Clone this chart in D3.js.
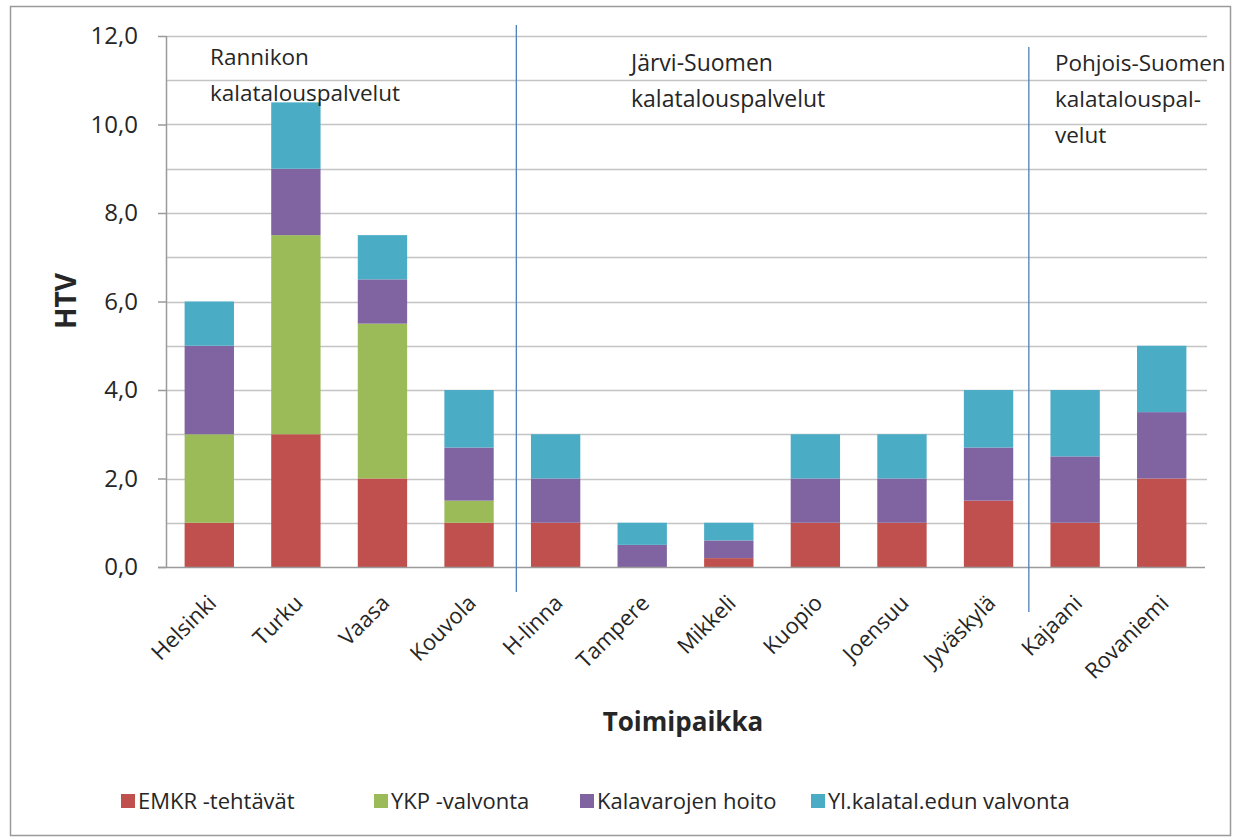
<!DOCTYPE html>
<html>
<head>
    <meta charset="utf-8">
    <title>HTV toimipaikoittain</title>
    <script src="https://cdn.jsdelivr.net/npm/d3@7"></script>
    <style>
        body { margin: 0; background: #fff; }
        .txt { font-family: "Open Sans", sans-serif; fill: #262626; }
        .grid line { stroke: #c4c4c4; stroke-width: 1.3px; }
    </style>
</head>
<body>
<div id="chart"></div>
<script>
    var width = 1233, height = 839;

    // data
    var toimipaikat = ['Helsinki','Turku','Vaasa','Kouvola','H-linna','Tampere','Mikkeli','Kuopio','Joensuu','Jyväskylä','Kajaani','Rovaniemi'];
    var sarjat = ['EMKR -tehtävät','YKP -valvonta','Kalavarojen hoito','Yl.kalatal.edun valvonta'];
    var emkr   = [1,   3,   2,   1,   1, 0,   0.2, 1, 1, 1.5, 1,   2  ];
    var ykp    = [2,   4.5, 3.5, 0.5, 0, 0,   0,   0, 0, 0,   0,   0  ];
    var hoito  = [2,   1.5, 1,   1.2, 1, 0.5, 0.4, 1, 1, 1.2, 1.5, 1.5];
    var yleinen= [1,   1.5, 1,   1.3, 1, 0.5, 0.4, 1, 1, 1.3, 1.5, 1.5];
    var yTicks = [0, 2, 4, 6, 8, 10, 12];
    var alueet = [
        {rivit: ['Rannikon','kalatalouspalvelut']},
        {rivit: ['Järvi-Suomen','kalatalouspalvelut']},
        {rivit: ['Pohjois-Suomen','kalatalouspal-','velut']}
    ];
    var rajat = [4, 10]; // category index where a new region starts
    var colors = ['#c0504d','#9bbb59','#8064a2','#4bacc6'];

    var margin = {left: 166, right: 1205, top: 36, bottom: 567};

    var svg = d3.select("#chart").append("svg")
        .attr("width", width)
        .attr("height", height);

    // outer frame
    svg.append("rect")
        .attr("x", 10.5).attr("y", 6.5)
        .attr("width", 1220).attr("height", 829)
        .attr("fill", "none")
        .attr("stroke", "#9a9a9a")
        .attr("stroke-width", 1.5);

    var x = d3.scaleBand()
        .domain(toimipaikat)
        .range([margin.left, margin.right])
        .paddingInner(0.43)
        .paddingOuter(0.215);

    var y = d3.scaleLinear()
        .domain([0, 12])
        .range([margin.bottom, margin.top]);

    // gridlines every 1.0
    svg.append("g")
        .attr("class", "grid")
        .selectAll("line")
        .data(d3.range(1, 13))
        .enter()
        .append("line")
        .attr("x1", margin.left).attr("x2", margin.right + 2)
        .attr("y1", function(d){return Math.round(y(d)) + 0.5})
        .attr("y2", function(d){return Math.round(y(d)) + 0.5});

    // stacked bars
    var rows = toimipaikat.map(function(t, i){
        return {name: t, s0: emkr[i], s1: ykp[i], s2: hoito[i], s3: yleinen[i]};
    });
    var stack = d3.stack().keys(['s0','s1','s2','s3'])(rows);

    svg.append("g").selectAll("g")
        .data(stack)
        .enter()
        .append("g")
        .attr("fill", function(d, i){return colors[i]})
        .selectAll("rect")
        .data(function(d){return d})
        .enter()
        .append("rect")
        .attr("x", function(d){return x(d.data.name)})
        .attr("width", x.bandwidth())
        .attr("y", function(d){return y(d[1])})
        .attr("height", function(d){return y(d[0]) - y(d[1])});

    // y axis
    var yAxis = svg.append("g")
        .attr("transform", "translate(" + margin.left + ",0)")
        .call(d3.axisLeft(y).tickValues(yTicks).tickSize(8).tickPadding(20)
            .tickFormat(function(d){return d3.format(".1f")(d).replace(".", ",")}));
    yAxis.select(".domain").attr("stroke", "#9a9a9a").attr("stroke-width", 1.5).attr("d", "M0.5," + margin.top + "V" + margin.bottom);
    yAxis.selectAll(".tick line").attr("stroke", "#9a9a9a").attr("stroke-width", 1.5);
    yAxis.selectAll(".tick text")
        .attr("class", "txt")
        .style("font-size", "24px")
        .attr("fill", "#262626");

    // x axis
    var xAxis = svg.append("g")
        .attr("transform", "translate(0," + margin.bottom + ")")
        .call(d3.axisBottom(x).tickSize(0).tickPadding(0));
    xAxis.select(".domain").attr("stroke", "#9a9a9a").attr("stroke-width", 1.5)
        .attr("d", "M" + (margin.left - 8) + ",0.5H" + margin.right);
    xAxis.selectAll(".tick text")
        .attr("class", "txt")
        .style("font-size", "22px")
        .attr("fill", "#262626")
        .attr("text-anchor", "end")
        .attr("dy", "0.35em")
        .attr("transform", "translate(3,32) rotate(-45)");

    // region divider lines
    var dividerY = [[25, 592], [47, 612]];
    var offs = [4, -3];
    svg.append("g").selectAll("line")
        .data(rajat)
        .enter()
        .append("line")
        .attr("x1", function(d, i){return x(toimipaikat[d]) - x.step() * x.paddingInner() / 2 + offs[i]})
        .attr("x2", function(d, i){return x(toimipaikat[d]) - x.step() * x.paddingInner() / 2 + offs[i]})
        .attr("y1", function(d, i){return dividerY[i][0]})
        .attr("y2", function(d, i){return dividerY[i][1]})
        .attr("stroke", "#4f81bd")
        .attr("stroke-width", 1.3);

    // region labels
    var labX = [210, 631, 1055], labY = [57, 63, 63], labSize = [22.5, 23, 22.5];
    alueet.forEach(function(a, i){
        svg.append("g").selectAll("text")
            .data(a.rivit)
            .enter()
            .append("text")
            .attr("class", "txt")
            .style("font-size", labSize[i] + "px")
            .attr("x", labX[i])
            .attr("y", function(d, j){return labY[i] + j * 36})
            .attr("dy", "0.35em")
            .text(function(d){return d});
    });

    // axis titles
    svg.append("text")
        .attr("class", "txt")
        .style("font-size", "28px")
        .style("font-weight", "bold")
        .attr("text-anchor", "middle")
        .attr("transform", "translate(66,301) rotate(-90)")
        .attr("dy", "0.35em")
        .text("HTV");

    svg.append("text")
        .attr("class", "txt")
        .style("font-size", "26px")
        .style("font-weight", "bold")
        .attr("text-anchor", "middle")
        .attr("x", 683).attr("y", 722)
        .attr("dy", "0.35em")
        .text("Toimipaikka");

    // legend
    var legX = [121, 374, 580, 811];
    var leg = svg.append("g").selectAll("g")
        .data(sarjat)
        .enter()
        .append("g")
        .attr("transform", function(d, i){return "translate(" + legX[i] + ",801)"});
    leg.append("rect")
        .attr("x", 0).attr("y", -7)
        .attr("width", 14).attr("height", 14)
        .attr("fill", function(d, i){return colors[i]});
    leg.append("text")
        .attr("class", "txt")
        .style("font-size", "22px")
        .attr("x", 17)
        .attr("dy", "0.35em")
        .text(function(d){return d});
</script>
</body>
</html>
